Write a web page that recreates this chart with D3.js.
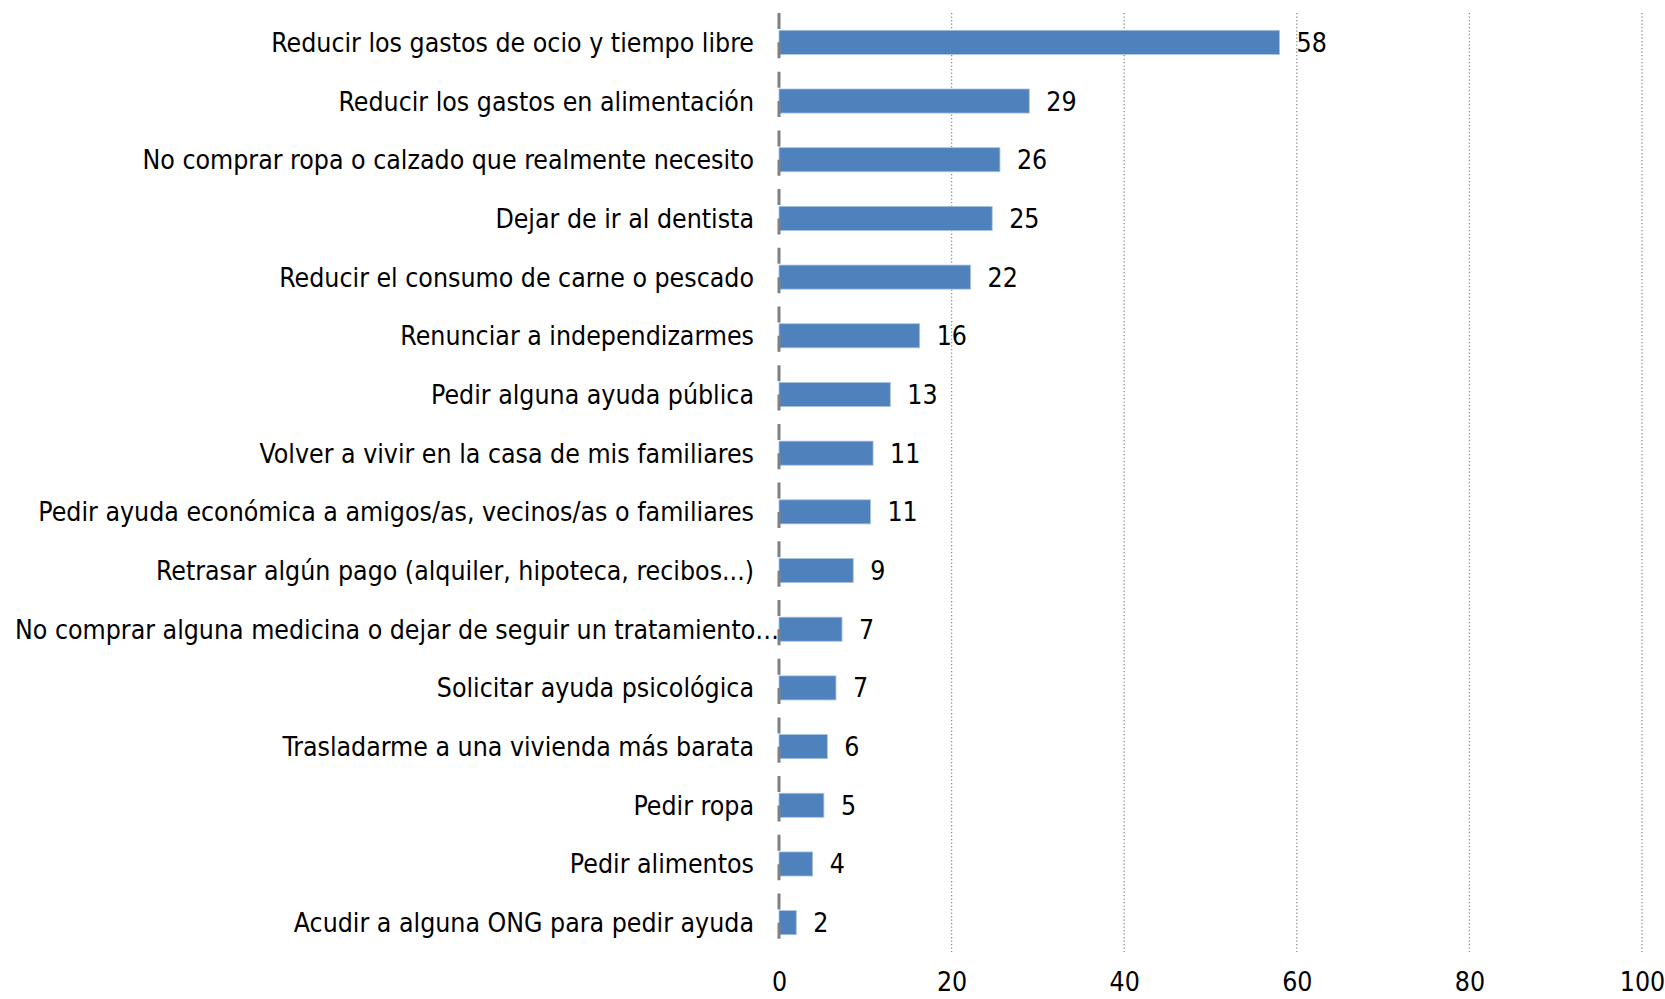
<!DOCTYPE html>
<html><head><meta charset="utf-8">
<script src="https://cdn.jsdelivr.net/npm/d3@7"></script>
<style>html,body{margin:0;padding:0;background:#fff;}</style>
</head><body>
<svg id="c" width="1665" height="999"></svg>
<script>
const categories = [
  "Reducir los gastos de ocio y tiempo libre",
  "Reducir los gastos en alimentación",
  "No comprar ropa o calzado que realmente necesito",
  "Dejar de ir al dentista",
  "Reducir el consumo de carne o pescado",
  "Renunciar a independizarmes",
  "Pedir alguna ayuda pública",
  "Volver a vivir en la casa de mis familiares",
  "Pedir ayuda económica a amigos/as, vecinos/as o familiares",
  "Retrasar algún pago (alquiler, hipoteca, recibos...)",
  "No comprar alguna medicina o dejar de seguir un tratamiento…",
  "Solicitar ayuda psicológica",
  "Trasladarme a una vivienda más barata",
  "Pedir ropa",
  "Pedir alimentos",
  "Acudir a alguna ONG para pedir ayuda"
];
const values = [58.0, 29.0, 25.6, 24.7, 22.2, 16.3, 12.9, 10.9, 10.6, 8.6, 7.3, 6.6, 5.6, 5.2, 3.9, 2.0];
const xTicks = [0, 20, 40, 60, 80, 100];

const FONT = "'DejaVu Sans Condensed', 'DejaVu Sans', sans-serif";
const svg = d3.select("#c");
const m = {left: 779, right: 1642, top: 13, bottom: 952};

const x = d3.scaleLinear().domain([0, 100]).range([m.left, m.right]);
const y = d3.scaleBand().domain(categories).range([m.top, m.bottom]).paddingInner(0.59).paddingOuter(0.295);

// fit font size
const probe = svg.append("text").style("font-family", FONT).style("font-size", "24px").text(categories[0]);
const w24 = probe.node().getComputedTextLength();
probe.remove();
const fs = 24 * 483 / w24;

// gridlines
svg.append("g").selectAll("line").data(xTicks.filter(d => d > 0)).join("line")
  .attr("x1", d => x(d)).attr("x2", d => x(d))
  .attr("y1", m.top).attr("y2", m.bottom)
  .attr("stroke", "#8c8c8c").attr("stroke-width", 1.3).attr("stroke-dasharray", "1.3,2.2");

// bars
svg.append("g").selectAll("rect").data(values).join("rect")
  .attr("x", x(0)).attr("y", (d, i) => y(categories[i]))
  .attr("width", d => x(d) - x(0)).attr("height", y.bandwidth())
  .attr("fill", "#4f81bd").attr("stroke", "#a9c1e0").attr("stroke-width", 0.8);

// axis dashed line
svg.append("line").attr("x1", x(0)).attr("x2", x(0)).attr("y1", m.top).attr("y2", m.bottom)
  .attr("stroke", "#808080").attr("stroke-width", 3).attr("stroke-dasharray", "16,13.35");

// category labels
const labelEnd = 754, labelMinStart = 15;
svg.append("g").selectAll("text").data(categories).join("text")
  .style("font-family", FONT).style("font-size", fs + "px").attr("fill", "#000")
  .attr("y", d => y(d) + y.bandwidth() / 2).attr("dy", "0.36em")
  .text(d => d)
  .each(function() {
    const t = d3.select(this);
    const w = this.getComputedTextLength();
    if (labelEnd - w < labelMinStart) { t.attr("x", labelMinStart).attr("text-anchor", "start"); }
    else { t.attr("x", labelEnd).attr("text-anchor", "end"); }
  });

// value labels
svg.append("g").selectAll("text").data(values).join("text")
  .style("font-family", FONT).style("font-size", fs + "px").attr("fill", "#000")
  .attr("x", d => x(d) + 17).attr("y", (d, i) => y(categories[i]) + y.bandwidth() / 2).attr("dy", "0.36em")
  .text(d => d3.format(".0f")(d));

// x axis tick labels
const xa = svg.append("g").attr("transform", `translate(0,${m.bottom})`)
  .call(d3.axisBottom(x).tickValues(xTicks).tickSize(0).tickPadding(20));
xa.select(".domain").remove();
xa.selectAll("text").style("font-family", FONT).style("font-size", fs + "px").attr("fill", "#000");
</script>
</body></html>
